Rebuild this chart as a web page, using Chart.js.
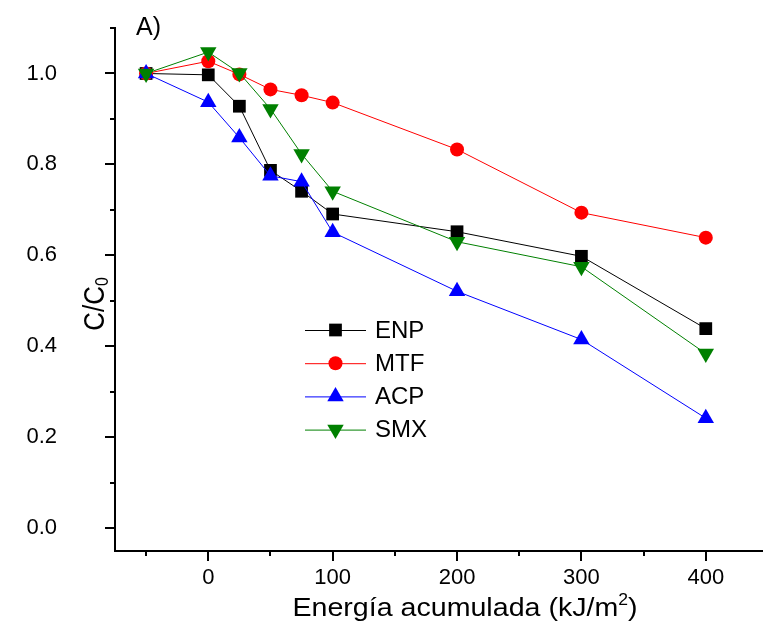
<!DOCTYPE html>
<html>
<head>
<meta charset="utf-8">
<script src="https://cdn.jsdelivr.net/npm/chart.js@4.4.1/dist/chart.umd.min.js"></script>
<style>
  html, body { margin: 0; padding: 0; background: #fff; }
</style>
</head>
<body>
<canvas id="chart" width="763" height="626"></canvas>
<script>
// accumulated energy (kJ/m2), first point is the dark reference
const energy = [-50, 0, 25, 50, 75, 100, 200, 300, 400];
const enp = [1.0, 0.997, 0.928, 0.787, 0.741, 0.691, 0.652, 0.598, 0.439];
const mtf = [1.0, 1.027, 0.998, 0.965, 0.952, 0.936, 0.833, 0.694, 0.639];
const acp = [1.0, 0.937, 0.859, 0.775, 0.762, 0.651, 0.521, 0.415, 0.242];
const smx = [1.0, 1.047, 1.001, 0.922, 0.823, 0.741, 0.630, 0.575, 0.384];

const xTicks = [-50, 0, 50, 100, 150, 200, 250, 300, 350, 400];
const xLabels = [0, 100, 200, 300, 400];
const yTicks = [0, 0.1, 0.2, 0.3, 0.4, 0.5, 0.6, 0.7, 0.8, 0.9, 1.0, 1.1];
const yLabels = [0, 0.2, 0.4, 0.6, 0.8, 1.0];

const FONT = '"Liberation Sans", Arial, sans-serif';

const series = [
  { label: 'ENP', values: enp, color: '#000000', style: 'rect', radius: 9, rotation: 0, order: 3 },
  { label: 'MTF', values: mtf, color: '#ff0000', style: 'circle', radius: 7, rotation: 0, order: 2 },
  { label: 'ACP', values: acp, color: '#0000ff', style: 'triangle', radius: 9.5, rotation: 0, order: 1 },
  { label: 'SMX', values: smx, color: '#008000', style: 'triangle', radius: 9.5, rotation: 180, order: 0 }
];

const isLabel = (list, v) => list.some(l => Math.abs(l - v) < 1e-6);

// small marker painter for the legend
function drawMarker(ctx, s, x, y) {
  ctx.save();
  ctx.fillStyle = s.color;
  ctx.beginPath();
  if (s.style === 'rect') {
    const h = s.radius * Math.SQRT1_2;
    ctx.rect(x - h, y - h, 2 * h, 2 * h);
  } else if (s.style === 'circle') {
    ctx.arc(x, y, s.radius, 0, Math.PI * 2);
  } else {
    let a = s.rotation * Math.PI / 180;
    for (let i = 0; i < 3; i++) {
      const px = x + Math.sin(a) * s.radius, py = y - Math.cos(a) * s.radius;
      i ? ctx.lineTo(px, py) : ctx.moveTo(px, py);
      a += Math.PI * 2 / 3;
    }
    ctx.closePath();
  }
  ctx.fill();
  ctx.restore();
}

// axis title with a raised / lowered small part, drawn in a local frame
function titleWithScript(ctx, main, small, tail, size, smallSize, shift) {
  ctx.font = size + 'px ' + FONT;
  const w1 = ctx.measureText(main).width;
  const w3 = tail ? ctx.measureText(tail).width : 0;
  ctx.font = smallSize + 'px ' + FONT;
  const w2 = ctx.measureText(small).width;
  const x0 = -(w1 + w2 + w3) / 2;
  ctx.font = size + 'px ' + FONT;
  ctx.fillText(main, x0, 0);
  if (tail) ctx.fillText(tail, x0 + w1 + w2, 0);
  ctx.font = smallSize + 'px ' + FONT;
  ctx.fillText(small, x0 + w1, shift);
}

const decorations = {
  id: 'decorations',
  afterDraw(chart) {
    const ctx = chart.ctx;
    const xs = chart.scales.x, ys = chart.scales.y;
    const area = chart.chartArea;
    ctx.save();
    ctx.strokeStyle = '#000';
    ctx.lineWidth = 2;

    // tick marks, major ones longer
    xTicks.forEach(v => {
      const px = Math.round(xs.getPixelForValue(v));
      const len = isLabel(xLabels, v) ? 10 : 5;
      ctx.beginPath();
      ctx.moveTo(px, area.bottom);
      ctx.lineTo(px, area.bottom + len);
      ctx.stroke();
    });
    yTicks.forEach(v => {
      const py = Math.round(ys.getPixelForValue(v));
      const len = isLabel(yLabels, v) ? 10 : 5;
      ctx.beginPath();
      ctx.moveTo(area.left, py);
      ctx.lineTo(area.left - len, py);
      ctx.stroke();
    });

    ctx.fillStyle = '#000';
    ctx.textBaseline = 'alphabetic';

    // panel letter
    ctx.font = '25px ' + FONT;
    ctx.textAlign = 'left';
    ctx.fillText('A)', 136, 35);

    // x title, slightly widened like the original
    ctx.save();
    ctx.translate(465, 616);
    ctx.scale(1.1, 1);
    titleWithScript(ctx, 'Energía acumulada (kJ/m', '2', ')', 26, 16, -11);
    ctx.restore();

    // y title C/C0, rotated
    ctx.save();
    ctx.translate(104, 304);
    ctx.rotate(-Math.PI / 2);
    ctx.scale(1, 1.12);
    titleWithScript(ctx, 'C/C', '0', '', 26, 16, 4);
    ctx.restore();

    // legend: line through the marker, then the name
    ctx.font = '24px ' + FONT;
    ctx.textBaseline = 'middle';
    series.forEach((s, i) => {
      const ly = 330 + i * 33.2;
      ctx.strokeStyle = s.color;
      ctx.lineWidth = 1;
      ctx.beginPath();
      ctx.moveTo(305, ly + 0.5);
      ctx.lineTo(366, ly + 0.5);
      ctx.stroke();
      drawMarker(ctx, s, 335.5, ly);
      ctx.fillStyle = '#000';
      ctx.fillText(s.label, 375, ly + 1);
    });
    ctx.restore();
  }
};

const datasets = series.map(s => ({
  label: s.label,
  data: energy.map((e, i) => ({ x: e, y: s.values[i] })),
  showLine: true,
  borderColor: s.color,
  backgroundColor: s.color,
  borderWidth: 1,
  pointStyle: s.style,
  pointRadius: s.radius,
  pointHoverRadius: s.radius,
  pointRotation: s.rotation,
  pointBorderWidth: 0,
  order: s.order,
  clip: false
}));

new Chart(document.getElementById('chart'), {
  type: 'scatter',
  data: { datasets },
  plugins: [decorations],
  options: {
    responsive: false,
    animation: false,
    layout: { autoPadding: false, padding: { top: 28, right: 0, left: 0, bottom: 0 } },
    plugins: {
      legend: { display: false },
      tooltip: { enabled: false }
    },
    scales: {
      x: {
        type: 'linear',
        min: -75,
        max: 446,
        afterBuildTicks: scale => { scale.ticks = xTicks.map(v => ({ value: v })); },
        afterFit: scale => {
          scale.height = 75;
          scale.paddingLeft = 0; scale.paddingRight = 0;
        },
        grid: { display: false, drawTicks: false },
        border: { display: true, color: '#000', width: 2 },
        ticks: {
          padding: 14,
          color: '#000',
          font: { family: FONT, size: 22 },
          maxRotation: 0,
          autoSkip: false,
          callback: v => isLabel(xLabels, v) ? String(v) : ''
        }
      },
      y: {
        min: -0.05,
        max: 1.1,
        afterBuildTicks: scale => { scale.ticks = yTicks.map(v => ({ value: v })); },
        afterFit: scale => {
          scale.width = 115;
          scale.paddingTop = 0; scale.paddingBottom = 0;
        },
        grid: { display: false, drawTicks: false },
        border: { display: true, color: '#000', width: 2 },
        ticks: {
          padding: 58,
          color: '#000',
          font: { family: FONT, size: 22 },
          autoSkip: false,
          callback: v => isLabel(yLabels, v) ? v.toFixed(1) : ''
        }
      }
    }
  }
});
</script>
</body>
</html>
